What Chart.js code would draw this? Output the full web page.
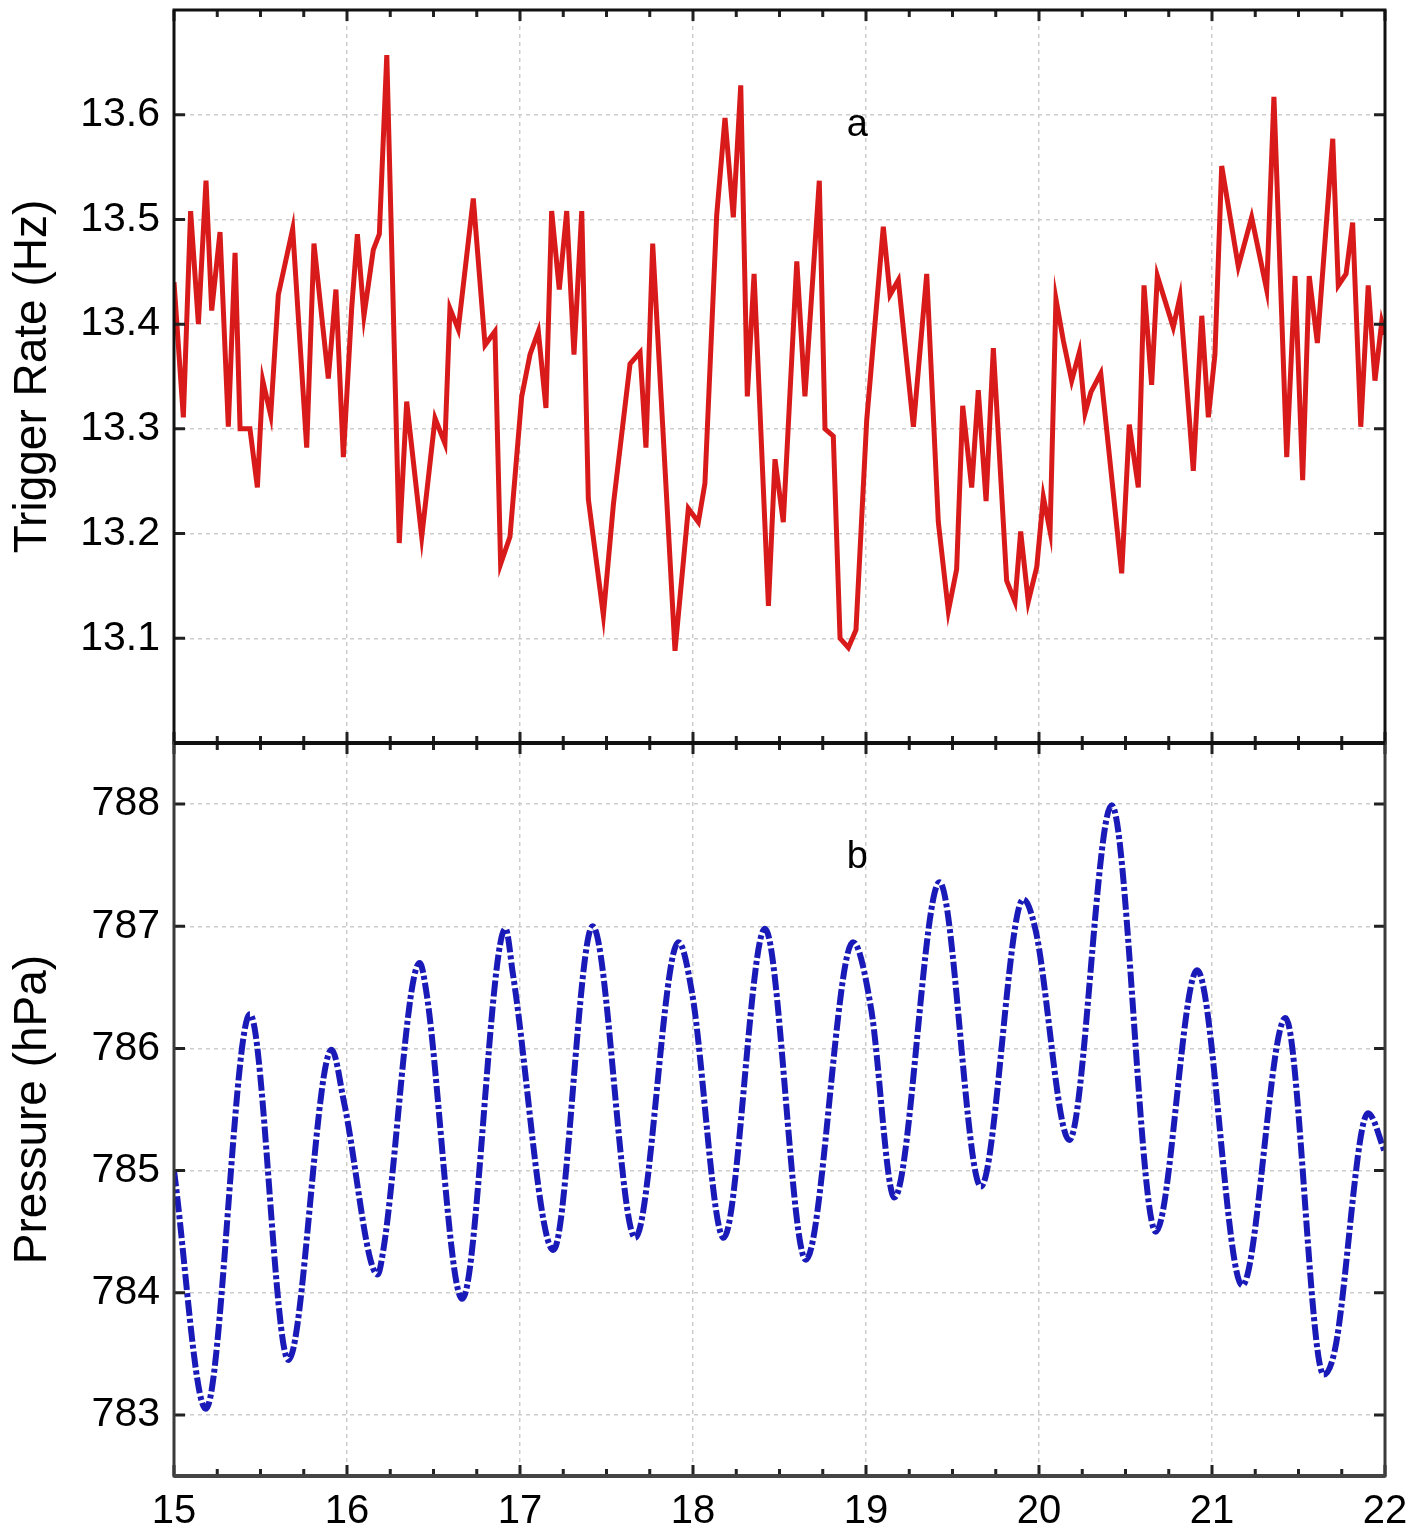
<!DOCTYPE html>
<html>
<head>
<meta charset="utf-8">
<title>Trigger rate and pressure</title>
<script src="https://cdn.jsdelivr.net/npm/chart.js@4.4.1/dist/chart.umd.min.js"></script>
<style>
    body { margin: 0; background: #fff; }
    #wrap { width: 1420px; height: 1540px; }
</style>
</head>
<body>
<div id="wrap"><canvas id="tidesChart" width="1420" height="1540"></canvas></div>
<script>
// Day axis (shared by both panels)
const dayTicks = [15, 16, 17, 18, 19, 20, 21, 22];

// Panel a: trigger rate (Hz)
const rateTicks = [13.1, 13.2, 13.3, 13.4, 13.5, 13.6];
const rateDays = [
    15.0, 15.054, 15.096, 15.141, 15.185, 15.218, 15.266, 15.314, 15.353, 15.382,
    15.439, 15.482, 15.513, 15.559, 15.603, 15.686, 15.767, 15.809, 15.892, 15.936,
    15.979, 16.027, 16.06, 16.098, 16.152, 16.187, 16.23, 16.302, 16.345, 16.432,
    16.509, 16.566, 16.595, 16.643, 16.73, 16.798, 16.855, 16.888, 16.942, 17.01,
    17.058, 17.106, 17.15, 17.183, 17.227, 17.27, 17.312, 17.357, 17.395, 17.482,
    17.54, 17.636, 17.694, 17.728, 17.767, 17.848, 17.896, 17.973, 18.031, 18.069,
    18.137, 18.185, 18.233, 18.276, 18.314, 18.353, 18.436, 18.474, 18.522, 18.6,
    18.647, 18.73, 18.763, 18.811, 18.85, 18.898, 18.942, 19.004, 19.1, 19.139,
    19.187, 19.274, 19.351, 19.418, 19.476, 19.524, 19.559, 19.611, 19.649, 19.694,
    19.736, 19.813, 19.861, 19.894, 19.938, 19.987, 20.025, 20.064, 20.098, 20.141,
    20.189, 20.233, 20.266, 20.30, 20.357, 20.478, 20.522, 20.574, 20.607, 20.651,
    20.684, 20.776, 20.815, 20.892, 20.941, 20.979, 21.017, 21.056, 21.152, 21.229,
    21.316, 21.358, 21.432, 21.48, 21.524, 21.562, 21.609, 21.698, 21.73, 21.775,
    21.813, 21.86, 21.903, 21.942, 21.981, 22.0
];
const rateValues = [
    13.44, 13.311, 13.508, 13.40, 13.537, 13.413, 13.488, 13.302, 13.468, 13.30,
    13.30, 13.244, 13.346, 13.313, 13.428, 13.491, 13.282, 13.477, 13.348, 13.433,
    13.273, 13.415, 13.486, 13.408, 13.471, 13.486, 13.657, 13.191, 13.326, 13.197,
    13.31, 13.286, 13.415, 13.395, 13.52, 13.38, 13.393, 13.171, 13.197, 13.331,
    13.371, 13.393, 13.32, 13.508, 13.433, 13.508, 13.371, 13.508, 13.233, 13.122,
    13.228, 13.362, 13.373, 13.282, 13.477, 13.233, 13.088, 13.224, 13.211, 13.248,
    13.504, 13.597, 13.502, 13.628, 13.331, 13.448, 13.131, 13.271, 13.211, 13.46,
    13.331, 13.537, 13.30, 13.293, 13.10, 13.091, 13.108, 13.308, 13.493, 13.428,
    13.442, 13.302, 13.448, 13.211, 13.126, 13.166, 13.322, 13.244, 13.337, 13.231,
    13.377, 13.155, 13.135, 13.202, 13.135, 13.168, 13.235, 13.202, 13.424, 13.384,
    13.346, 13.373, 13.315, 13.335, 13.353, 13.162, 13.304, 13.244, 13.437, 13.342,
    13.446, 13.397, 13.426, 13.26, 13.408, 13.311, 13.371, 13.551, 13.455, 13.502,
    13.433, 13.617, 13.273, 13.446, 13.251, 13.446, 13.382, 13.577, 13.437, 13.448,
    13.497, 13.302, 13.437, 13.346, 13.402, 13.39
];

// Panel b: pressure (hPa)
const pressureTicks = [783, 784, 785, 786, 787, 788];
const pressureDays = [
    15.0, 15.184, 15.439, 15.661, 15.911, 15.984, 16.177, 16.21, 16.42, 16.46,
    16.666, 16.916, 16.96, 17.193, 17.42, 17.666, 17.916, 17.995, 18.177, 18.416,
    18.652, 18.925, 19.03, 19.164, 19.425, 19.664, 19.909, 19.98, 20.175, 20.42,
    20.675, 20.914, 21.175, 21.425, 21.645, 21.71, 21.902, 22.0
];
const pressureValues = [
    785.0, 783.05, 786.28, 783.45, 785.99, 785.55, 784.15, 784.35, 786.7, 786.45,
    783.95, 786.98, 786.6, 784.35, 787.0, 784.45, 786.87, 786.45, 784.45, 786.98,
    784.27, 786.87, 786.32, 784.78, 787.36, 784.87, 787.22, 786.97, 785.25, 787.99,
    784.5, 786.64, 784.06, 786.25, 783.33, 783.53, 785.47, 785.15
];

const FONT = "'Liberation Sans', Arial, Helvetica, sans-serif";

function toPoints(xs, ys) {
    return xs.map((x, i) => ({ x: x, y: ys[i] }));
}

function setTicks(values) {
    return function(scale) {
        scale.ticks = values.map(v => ({ value: v }));
    };
}

// fixed y-axis box, no extra label padding
function fitYAxis(scale) {
    scale.width = 174;
    scale.paddingTop = 0;
    scale.paddingBottom = 0;
}

// frame, inward tick marks and the panel letters
const framePlugin = {
    id: 'frame',
    afterDatasetsDraw(chart) {
        const ctx = chart.ctx;
        const x = chart.scales.x;
        const yr = chart.scales.yRate;
        const yp = chart.scales.yPress;
        const left = x.left, right = x.right;

        ctx.save();
        ctx.lineCap = 'butt';

        // x ticks: majors at days, 3 minors between
        const xTicks = [];
        dayTicks.forEach((d, i) => {
            xTicks.push({ v: d, len: 11 });
            if (i < dayTicks.length - 1) {
                const step = (dayTicks[i + 1] - d) / 4;
                for (let k = 1; k < 4; k++) xTicks.push({ v: d + k * step, len: 7 });
            }
        });
        ctx.strokeStyle = '#222';
        ctx.lineWidth = 3;
        xTicks.forEach(t => {
            const px = x.getPixelForValue(t.v);
            ctx.beginPath();
            ctx.moveTo(px, yr.top); ctx.lineTo(px, yr.top + t.len);
            ctx.moveTo(px, yr.bottom); ctx.lineTo(px, yr.bottom - t.len);
            ctx.moveTo(px, yp.top); ctx.lineTo(px, yp.top + t.len);
            ctx.moveTo(px, yp.bottom); ctx.lineTo(px, yp.bottom - t.len);
            ctx.stroke();
        });

        // y ticks on both sides
        [[yr, rateTicks], [yp, pressureTicks]].forEach(([s, ticks]) => {
            ticks.forEach(v => {
                const py = s.getPixelForValue(v);
                ctx.beginPath();
                ctx.moveTo(left, py); ctx.lineTo(left + 11, py);
                ctx.moveTo(right, py); ctx.lineTo(right - 11, py);
                ctx.stroke();
            });
        });

        // frame
        ctx.strokeStyle = '#111';
        ctx.lineWidth = 3;
        ctx.strokeRect(left, yr.top, right - left, yr.bottom - yr.top);
        ctx.strokeStyle = '#3a3a3a';
        ctx.strokeRect(left, yp.top, right - left, yp.bottom - yp.top);
        ctx.strokeStyle = '#111';
        ctx.lineWidth = 4;
        ctx.beginPath();
        ctx.moveTo(left, yr.bottom); ctx.lineTo(right, yr.bottom);
        ctx.stroke();
        ctx.strokeStyle = '#444';
        ctx.beginPath();
        ctx.moveTo(left, yp.bottom); ctx.lineTo(right, yp.bottom);
        ctx.stroke();

        // panel letters
        ctx.fillStyle = '#000';
        ctx.font = '38px ' + FONT;
        ctx.textAlign = 'center';
        ctx.textBaseline = 'middle';
        ctx.fillText('a', x.getPixelForValue(18.95), yr.getPixelForValue(13.59));
        ctx.fillText('b', x.getPixelForValue(18.95), yp.getPixelForValue(787.56));
        ctx.restore();
    }
};

const gridStyle = {
    color: '#cdcdcd',
    lineWidth: 1.5,
    drawTicks: false
};

new Chart(document.getElementById('tidesChart').getContext('2d'), {
    type: 'line',
    data: {
        datasets: [{
            label: 'Trigger Rate',
            data: toPoints(rateDays, rateValues),
            yAxisID: 'yRate',
            borderColor: '#d81a1a',
            borderWidth: 5,
            pointRadius: 0,
            tension: 0,
            borderJoinStyle: 'miter'
        }, {
            label: 'Pressure',
            data: toPoints(pressureDays, pressureValues),
            yAxisID: 'yPress',
            borderColor: '#1a1ab8',
            borderWidth: 6,
            borderDash: [16, 3, 4, 3],
            pointRadius: 0,
            cubicInterpolationMode: 'monotone'
        }]
    },
    options: {
        responsive: false,
        animation: false,
        layout: {
            padding: { left: 0, top: 10, right: 35, bottom: 0 }
        },
        plugins: {
            legend: { display: false },
            tooltip: { enabled: false }
        },
        scales: {
            x: {
                type: 'linear',
                min: 15,
                max: 22,
                afterBuildTicks: setTicks(dayTicks),
                afterFit: function(scale) { scale.height = 64; },
                grid: gridStyle,
                border: { display: false, dash: [4, 4] },
                ticks: {
                    color: '#000',
                    padding: 12,
                    maxRotation: 0,
                    font: { size: 40, family: FONT },
                    callback: v => String(v)
                }
            },
            yPress: {
                type: 'linear',
                position: 'left',
                stack: 'panels',
                stackWeight: 1,
                min: 782.5,
                max: 788.5,
                afterBuildTicks: setTicks(pressureTicks),
                afterFit: fitYAxis,
                grid: gridStyle,
                border: { display: false, dash: [4, 4] },
                ticks: {
                    color: '#000',
                    padding: 14,
                    font: { size: 41, family: FONT },
                    callback: v => String(v)
                },
                title: {
                    display: true,
                    text: 'Pressure (hPa)',
                    color: '#000',
                    font: { size: 46, family: FONT },
                    padding: { top: 6, bottom: 0 }
                }
            },
            yRate: {
                type: 'linear',
                position: 'left',
                stack: 'panels',
                stackWeight: 1,
                min: 13.0,
                max: 13.7,
                afterBuildTicks: setTicks(rateTicks),
                afterFit: fitYAxis,
                grid: gridStyle,
                border: { display: false, dash: [4, 4] },
                ticks: {
                    color: '#000',
                    padding: 14,
                    font: { size: 41, family: FONT },
                    callback: v => v.toFixed(1)
                },
                title: {
                    display: true,
                    text: 'Trigger Rate (Hz)',
                    color: '#000',
                    font: { size: 46, family: FONT },
                    padding: { top: 6, bottom: 0 }
                }
            }
        }
    },
    plugins: [framePlugin]
});
</script>
</body>
</html>
